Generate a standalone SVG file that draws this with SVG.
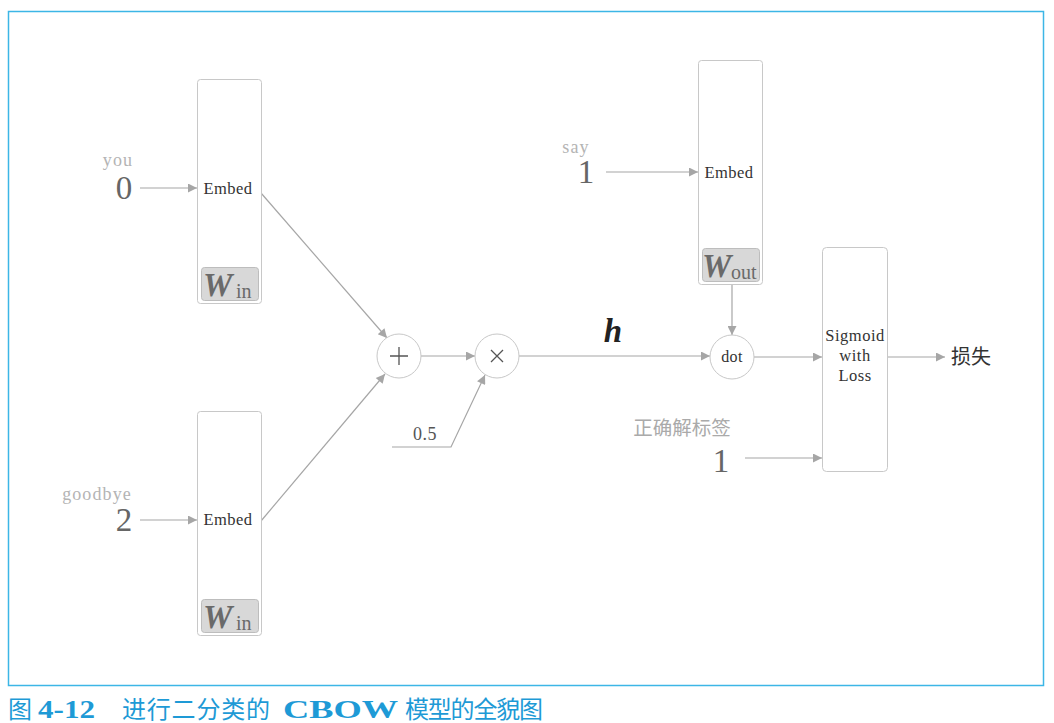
<svg xmlns="http://www.w3.org/2000/svg" width="1054" height="723" viewBox="0 0 1054 723">
  <style>
    .box { fill: #ffffff; stroke: #c8c8c8; stroke-width: 1; }
    .wbox { fill: #d8d8d8; stroke: #bdbdbd; stroke-width: 1; }
    .node { fill: #ffffff; stroke: #c8c8c8; stroke-width: 1; }
    .edge { fill: none; stroke: #a6a6a6; stroke-width: 1.2; }
    .serif { font-family: "Liberation Serif", "DejaVu Serif", serif; }
    .lbl { font-size: 16.5px; letter-spacing: 0.5px; fill: #333333; text-anchor: middle; }
    .small { font-size: 16px; letter-spacing: 0.3px; fill: #333333; text-anchor: middle; }
    .half { font-size: 18px; letter-spacing: 0.5px; fill: #555555; text-anchor: middle; }
    .word { font-size: 18px; letter-spacing: 1.1px; fill: #b4b4b4; text-anchor: middle; }
    .num { font-size: 33px; fill: #666666; text-anchor: middle; }
    .w { font-style: italic; font-weight: bold; font-size: 33px; fill: #6a6a6a; }
    .sub { font-size: 20px; fill: #6a6a6a; }
    .vec { font-style: italic; font-weight: bold; font-size: 33px; fill: #222222; text-anchor: middle; }
    .cjk { font-family: "Noto Sans CJK SC", "Noto Sans", sans-serif; }
    .tag { font-size: 19.5px; fill: #aaaaaa; text-anchor: middle; }
    .out { font-size: 20px; fill: #333333; text-anchor: middle; }
    .cap { font-size: 24px; fill: #1e9ad6; }
    .capb { font-family: "Liberation Serif", serif; font-weight: bold; font-size: 26px; fill: #1e9ad6; }
  </style>
  <defs>
    <marker id="arr" viewBox="0 0 10 10" refX="10" refY="5" markerWidth="11" markerHeight="9" markerUnits="userSpaceOnUse" orient="auto">
      <path d="M0,0 L10,5 L0,10 z" fill="#a6a6a6"/>
    </marker>
  </defs>

  <!-- outer frame -->
  <rect x="8.5" y="11.5" width="1035" height="674" fill="none" stroke="#3cb6e6" stroke-width="1.5"/>

  <!-- connectors -->
  <g id="connectors">
    <line class="edge" x1="140" y1="188" x2="197" y2="188" marker-end="url(#arr)"/>
    <line class="edge" x1="140" y1="520" x2="197" y2="520" marker-end="url(#arr)"/>
    <line class="edge" x1="606" y1="172" x2="698" y2="172" marker-end="url(#arr)"/>
    <line class="edge" x1="745" y1="458" x2="822" y2="458" marker-end="url(#arr)"/>
    <line class="edge" x1="261" y1="193" x2="387" y2="338" marker-end="url(#arr)"/>
    <line class="edge" x1="261" y1="521" x2="385" y2="374" marker-end="url(#arr)"/>
    <line class="edge" x1="421" y1="356" x2="475" y2="356" marker-end="url(#arr)"/>
    <polyline class="edge" points="392,447 451,447 485,375" marker-end="url(#arr)"/>
    <line class="edge" x1="519" y1="356" x2="710" y2="356" marker-end="url(#arr)"/>
    <line class="edge" x1="732" y1="285" x2="732" y2="335" marker-end="url(#arr)"/>
    <line class="edge" x1="754" y1="357" x2="822" y2="357" marker-end="url(#arr)"/>
    <line class="edge" x1="887" y1="357" x2="945" y2="357" marker-end="url(#arr)"/>
  </g>

  <!-- inputs -->
  <g id="in-you">
    <text class="serif word" x="118" y="166">you</text>
    <text class="serif num" x="124" y="199">0</text>
  </g>
  <g id="in-goodbye">
    <text class="serif word" x="97" y="500">goodbye</text>
    <text class="serif num" x="124" y="531">2</text>
  </g>
  <g id="in-say">
    <text class="serif word" x="576" y="153">say</text>
    <text class="serif num" x="586" y="183">1</text>
  </g>
  <g id="in-label">
    <text class="cjk tag" x="682" y="435">正确解标签</text>
    <text class="serif num" x="721" y="472">1</text>
  </g>

  <!-- embed layers -->
  <g id="embed-in-1">
    <rect class="box" x="197.5" y="79.5" width="64" height="224" rx="3"/>
    <text class="serif lbl" x="228" y="194">Embed</text>
    <rect class="wbox" x="201.5" y="267.5" width="57" height="33" rx="3"/>
    <text class="serif w" x="203" y="296">W</text><text class="serif sub" x="236" y="298">in</text>
  </g>
  <g id="embed-in-2">
    <rect class="box" x="197.5" y="411.5" width="64" height="224" rx="3"/>
    <text class="serif lbl" x="228" y="525">Embed</text>
    <rect class="wbox" x="201.5" y="599.5" width="57" height="33" rx="3"/>
    <text class="serif w" x="203" y="628">W</text><text class="serif sub" x="236" y="630">in</text>
  </g>
  <g id="embed-out">
    <rect class="box" x="698.5" y="60.5" width="64" height="224" rx="3"/>
    <text class="serif lbl" x="729" y="178">Embed</text>
    <rect class="wbox" x="702.5" y="248.5" width="57" height="33" rx="3"/>
    <text class="serif w" x="702" y="277">W</text><text class="serif sub" x="731" y="279">out</text>
  </g>

  <!-- operations -->
  <g id="add">
    <circle class="node" cx="399" cy="356" r="22"/>
    <path d="M390,356 H408 M399,347 V365" stroke="#555555" stroke-width="1.3"/>
  </g>
  <g id="mul">
    <circle class="node" cx="497" cy="356" r="22"/>
    <path d="M491,350 L503,362 M503,350 L491,362" stroke="#555555" stroke-width="1.3"/>
  </g>
  <g id="scale">
    <text class="serif half" x="425" y="440">0.5</text>
  </g>
  <g id="hidden">
    <text class="serif vec" x="613" y="342">h</text>
  </g>
  <g id="dot">
    <circle class="node" cx="732" cy="357" r="22"/>
    <text class="serif small" x="732" y="362">dot</text>
  </g>
  <g id="sigmoid-loss">
    <rect class="box" x="822.5" y="247.5" width="65" height="224" rx="4"/>
    <text class="serif lbl" x="855" y="341">Sigmoid</text>
    <text class="serif lbl" x="855" y="361">with</text>
    <text class="serif lbl" x="855" y="381">Loss</text>
  </g>
  <g id="loss">
    <text class="cjk out" x="971" y="364">损失</text>
  </g>

  <!-- caption -->
  <g id="caption" class="cjk cap">
    <text x="8" y="718">图</text>
    <text class="capb" x="38" y="718" textLength="57" lengthAdjust="spacingAndGlyphs">4-12</text>
    <text x="122" y="718" textLength="148" lengthAdjust="spacing">进行二分类的</text>
    <text class="capb" x="283" y="718" textLength="115" lengthAdjust="spacingAndGlyphs">CBOW</text>
    <text x="405" y="718" textLength="138" lengthAdjust="spacing">模型的全貌图</text>
  </g>
</svg>
